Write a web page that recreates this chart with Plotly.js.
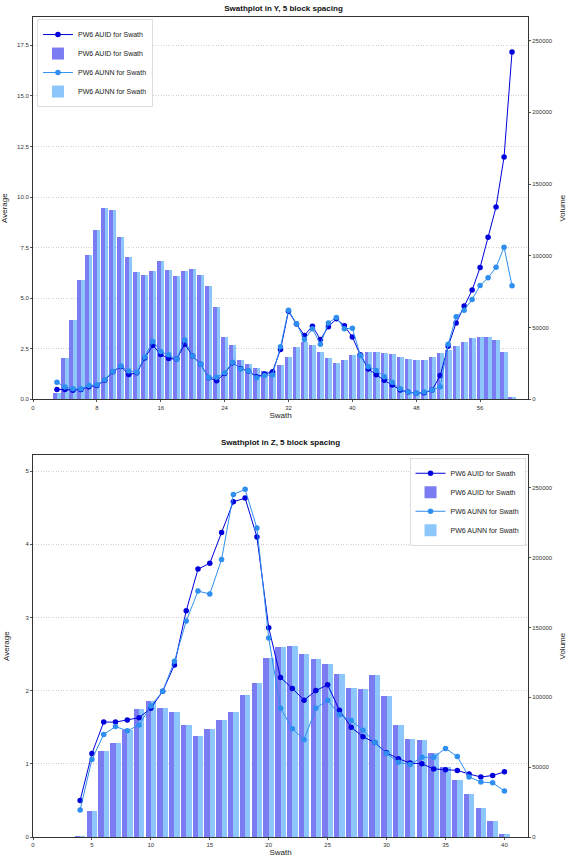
<!DOCTYPE html>
<html>
<head>
<meta charset="utf-8">
<script src="https://cdn.plot.ly/plotly-3.0.1.min.js"></script>
<style>html,body{margin:0;padding:0;background:#fff;}#chart{width:567px;height:861px;}</style>
</head>
<body>
<div id="chart"></div>
<script>
// ---- Swathplot in Y (swaths 3..60) ----
const swathY = [3,4,5,6,7,8,9,10,11,12,13,14,15,16,17,18,19,20,21,22,23,24,25,26,27,28,29,30,31,32,33,34,35,36,37,38,39,40,41,42,43,44,45,46,47,48,49,50,51,52,53,54,55,56,57,58,59,60];
const avgY_AUID = [0.49,0.49,0.45,0.49,0.62,0.69,0.95,1.36,1.63,1.23,1.31,2.04,2.67,2.22,2.02,1.99,2.73,2.14,1.74,1.07,0.92,1.28,1.81,1.53,1.40,1.12,1.25,1.36,2.47,4.35,3.72,3.16,3.62,2.96,3.59,3.98,3.64,3.08,2.20,1.50,1.22,0.94,0.71,0.46,0.36,0.30,0.33,0.46,1.18,2.63,3.78,4.61,5.40,6.52,8.01,9.51,11.98,17.17];
const avgY_AUNN = [0.85,0.61,0.52,0.52,0.69,0.72,0.97,1.38,1.65,1.40,1.34,2.10,2.86,2.37,2.20,1.99,2.93,2.14,1.74,1.08,1.09,1.31,1.84,1.50,1.41,1.07,1.18,1.21,2.60,4.41,3.74,2.96,3.49,2.73,3.78,4.05,3.49,3.52,2.17,1.61,1.43,1.12,0.85,0.52,0.36,0.30,0.36,0.46,0.62,2.73,4.08,4.41,4.94,5.63,6.01,6.53,7.52,5.61];
const volY_AUID = [4200,28800,55400,82900,100500,117700,133400,131600,113200,99300,88700,86400,89400,96300,89800,85900,89400,90500,86400,78900,64100,43600,37800,27600,24800,21800,19700,19500,23900,29300,36600,39700,37800,32900,28600,25500,27400,30900,31800,32700,32700,32200,31300,29700,28300,27600,27600,29500,32000,34500,37300,39900,42500,43400,43400,41300,32900,1400];
const volY_AUNN = [4200,28800,55400,82900,100500,117700,133400,131600,113200,99300,88700,86400,89400,96300,89800,85900,89400,90500,86400,78900,64100,43600,37800,27600,24800,21800,19700,19500,23900,29300,36600,39700,37800,32900,28600,25500,27400,30900,31800,32700,32700,32200,31300,29700,28300,27600,27600,29500,32000,34500,37300,39900,42500,43400,43400,41300,32900,1400];

// ---- Swathplot in Z (swaths 4..40) ----
const swathZ = [4,5,6,7,8,9,10,11,12,13,14,15,16,17,18,19,20,21,22,23,24,25,26,27,28,29,30,31,32,33,34,35,36,37,38,39,40];
const avgZ_AUID = [0.50,1.14,1.57,1.57,1.60,1.63,1.76,1.99,2.35,3.09,3.66,3.74,4.16,4.58,4.63,4.10,2.86,2.18,2.03,1.87,2.00,2.08,1.73,1.50,1.37,1.29,1.15,1.07,1.01,1.00,0.93,0.92,0.91,0.86,0.82,0.84,0.89];
const avgZ_AUNN = [0.37,1.06,1.40,1.51,1.45,1.53,1.79,1.99,2.40,2.95,3.36,3.32,3.79,4.68,4.75,4.22,2.72,1.76,1.48,1.33,1.76,1.87,1.67,1.59,1.46,1.29,1.14,1.02,0.99,1.09,1.09,1.21,1.10,0.82,0.75,0.74,0.63];
const volZ_AUID = [900,18800,61900,67400,76700,91500,97000,92500,89800,80100,72200,77500,83900,89600,101300,110100,128400,136300,136800,131100,127500,124100,116800,106600,106100,115600,100800,80500,70100,69400,59800,50100,40800,30800,20500,11700,2200];
const volZ_AUNN = [900,18800,61900,67400,76700,91500,97000,92500,89800,80100,72200,77500,83900,89600,101300,110100,128400,136300,136800,131100,127500,124100,116800,106600,106100,115600,100800,80500,70100,69400,59800,50100,40800,30800,20500,11700,2200];

const seriesNames = ['PW6 AUID for Swath','PW6 AUNN for Swath'];
const titles = ['Swathplot in Y, 5 block spacing','Swathplot in Z, 5 block spacing'];

const C_LINE1 = '#0000dd', C_LINE2 = '#2e8ff0', C_BAR1 = '#7b7bf2', C_BAR2 = '#8cc6fb';

function lineTrace(x, y, name, color, xa, ya, lg){
  return {type:'scatter', mode:'lines+markers', x:x, y:y, name:name, xaxis:xa, yaxis:ya, legend:lg,
    line:{color:color, width:1}, marker:{color:color, size:5.5}};
}
function barTrace(x, y, name, color, xa, ya, lg, off){
  return {type:'bar', x:x, y:y, name:name, xaxis:xa, yaxis:ya, legend:lg,
    width:0.45, offset:off, marker:{color:color, line:{width:0}}};
}

const data = [
  lineTrace(swathY, avgY_AUID, seriesNames[0], C_LINE1, 'x', 'y2', 'legend'),
  barTrace(swathY, volY_AUID, seriesNames[0], C_BAR1, 'x', 'y', 'legend', -0.45),
  lineTrace(swathY, avgY_AUNN, seriesNames[1], C_LINE2, 'x', 'y2', 'legend'),
  barTrace(swathY, volY_AUNN, seriesNames[1], C_BAR2, 'x', 'y', 'legend', 0),
  lineTrace(swathZ, avgZ_AUID, seriesNames[0], C_LINE1, 'x2', 'y4', 'legend2'),
  barTrace(swathZ, volZ_AUID, seriesNames[0], C_BAR1, 'x2', 'y3', 'legend2', -0.45),
  lineTrace(swathZ, avgZ_AUNN, seriesNames[1], C_LINE2, 'x2', 'y4', 'legend2'),
  barTrace(swathZ, volZ_AUNN, seriesNames[1], C_BAR2, 'x2', 'y3', 'legend2', 0)
];

const F = 'Liberation Sans, Arial, sans-serif';
const tickFont = {family:F, size:6, color:'#333'};
const axTitleFont = {family:F, size:8, color:'#222'};
const baseAx = {showline:true, linecolor:'#333', linewidth:1, ticks:'outside', ticklen:2, tickcolor:'#555',
  tickfont:tickFont, zeroline:false, showgrid:false, fixedrange:true};
const gridStyle = {showgrid:true, gridcolor:'#c4c4c4', griddash:'1px,1.5px', gridwidth:0.8};

const topDom = [0.5337, 1], botDom = [0, 0.4655];

const layout = {
  width:567, height:861,
  margin:{l:33.3, r:38.5, t:16.7, b:23.7, pad:0},
  paper_bgcolor:'#fff', plot_bgcolor:'#fff',
  barmode:'overlay', bargap:0,
  showlegend:true,
  title:{text:'<b>'+titles[0]+'</b>', font:{family:F, size:8, color:'#111'}, x:0.5, xanchor:'center', y:0.991, yanchor:'middle', yref:'container'},
  xaxis:Object.assign({}, baseAx, {domain:[0,1], anchor:'y', range:[0,62], dtick:8, tick0:0, mirror:true,
    title:{text:'Swath', font:axTitleFont, standoff:2}}),
  yaxis:Object.assign({}, baseAx, {domain:topDom, anchor:'x', side:'right', range:[0,266400], dtick:50000, tickformat:'d',
    title:{text:'Volume', font:axTitleFont, standoff:8}}),
  yaxis2:Object.assign({}, baseAx, gridStyle, {domain:topDom, anchor:'x', overlaying:'y', side:'left', range:[0,18.9], dtick:2.5, tickformat:'.1f',
    title:{text:'Average', font:axTitleFont, standoff:10}}),
  xaxis2:Object.assign({}, baseAx, {domain:[0,1], anchor:'y3', range:[0,42], dtick:5, tick0:0, mirror:true,
    title:{text:'Swath', font:axTitleFont, standoff:2}}),
  yaxis3:Object.assign({}, baseAx, {domain:botDom, anchor:'x2', side:'right', range:[0,273170], dtick:50000, tickformat:'d',
    title:{text:'Volume', font:axTitleFont, standoff:8}}),
  yaxis4:Object.assign({}, baseAx, gridStyle, {domain:botDom, anchor:'x2', overlaying:'y3', side:'left', range:[0,5.215], dtick:1, tickformat:'d',
    title:{text:'Average', font:axTitleFont, standoff:14}}),
  legend:{x:0.008, y:0.9975, xanchor:'left', yanchor:'top', xref:'paper', yref:'paper',
    bgcolor:'rgba(255,255,255,0.9)', bordercolor:'#ddd', borderwidth:1, font:{family:F, size:7, color:'#222'},
    traceorder:'normal', tracegroupgap:0, itemwidth:30},
  legend2:{x:0.995, y:0.4625, xanchor:'right', yanchor:'top', xref:'paper', yref:'paper',
    bgcolor:'rgba(255,255,255,0.9)', bordercolor:'#ddd', borderwidth:1, font:{family:F, size:7, color:'#222'},
    traceorder:'normal', tracegroupgap:0, itemwidth:30},
  annotations:[
    {text:'<b>'+titles[1]+'</b>', xref:'paper', yref:'paper', x:0.5, y:0.4655, yshift:6, xanchor:'center', yanchor:'bottom',
     showarrow:false, font:{family:F, size:8, color:'#111'}}
  ]
};

Plotly.newPlot('chart', data, layout, {staticPlot:true, displayModeBar:false});
</script>
</body>
</html>
